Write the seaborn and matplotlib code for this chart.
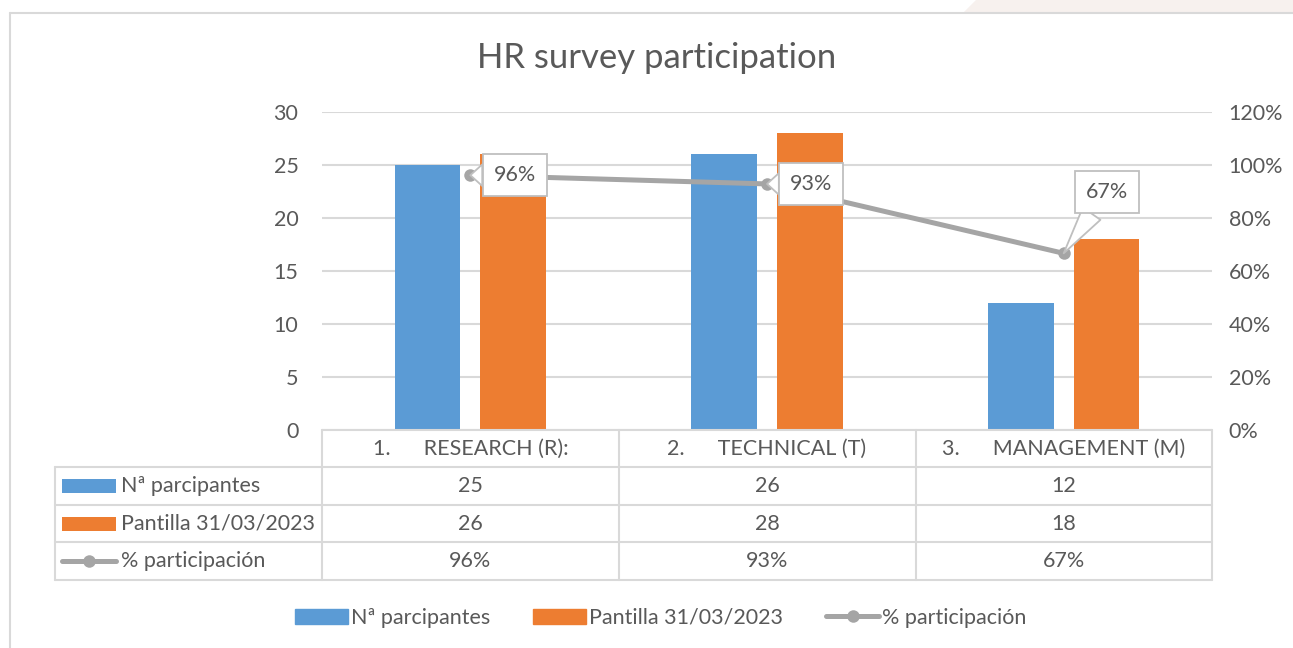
import matplotlib
matplotlib.use("Agg")
import matplotlib.pyplot as plt
import matplotlib.patches as mpatches
from matplotlib.lines import Line2D
from matplotlib.transforms import Affine2D, blended_transform_factory
from matplotlib.ticker import PercentFormatter
import pandas as pd
import seaborn as sns

# data
categories = ["RESEARCH (R):", "TECHNICAL (T)", "MANAGEMENT (M)"]
series_names = ["Nª parcipantes", "Pantilla 31/03/2023", "% participación"]
participants = [25, 26, 12]
headcount = [26, 28, 18]
participation = [0.9615, 0.9286, 0.6667]

blue = "#5B9BD5"
orange = "#ED7D31"
gray = "#A5A5A5"
text_color = "#595959"
grid_color = "#D9D9D9"
fs = 15.5

W, H = 1293, 648

sns.set_style("white")
plt.rcParams["font.family"] = ["Lato", "DejaVu Sans"]
plt.rcParams["text.color"] = text_color

fig = plt.figure(figsize=(W / 100, H / 100), dpi=100)
# pixel transform (y from the top) for layout items
pix = Affine2D().scale(1 / W, -1 / H).translate(0, 1) + fig.transFigure

ax = fig.add_axes([322 / W, 1 - 430 / H, 890 / W, 318 / H])

df = pd.DataFrame({
    "category": categories * 2,
    "series": [series_names[0]] * 3 + [series_names[1]] * 3,
    "value": participants + headcount,
})
sns.barplot(data=df, x="category", y="value", hue="series", palette=[blue, orange],
            width=0.578, gap=0.232, saturation=1, linewidth=0, legend=False, ax=ax)

ax.set_ylim(0, 30)
ax.set_yticks(range(0, 31, 5))
ax.set_xlim(-0.5, 2.5)
ax.set_xticks([])
ax.set_xlabel("")
ax.set_ylabel("")
ax.yaxis.grid(True, color=grid_color, lw=1.5)
ax.set_axisbelow(True)
ax.tick_params(axis="y", length=0, pad=17, labelsize=fs, labelcolor=text_color)
sns.despine(ax=ax, left=True, bottom=True)

# secondary axis with the participation line
ax2 = ax.twinx()
sns.lineplot(x=[0, 1, 2], y=participation, ax=ax2, color=gray, lw=3.6,
             marker="o", markersize=9, markeredgewidth=0)
ax2.set_ylim(0, 1.2)
ax2.set_yticks([0, 0.2, 0.4, 0.6, 0.8, 1.0, 1.2])
ax2.yaxis.set_major_formatter(PercentFormatter(1.0, decimals=0))
ax2.tick_params(axis="y", length=0, pad=12, labelsize=fs, labelcolor=text_color)
ax2.set_ylabel("")
ax2.set_xlim(-0.5, 2.5)
for s in ax2.spines.values():
    s.set_visible(False)

# data labels
offsets = [(32, 0), (32, 0), (31, 44)]
for i, p in enumerate(participation):
    ax2.annotate(f"{p:.0%}", xy=(i, p), xytext=offsets[i], textcoords="offset points",
                 ha="center", va="center", fontsize=fs, color=text_color,
                 bbox=dict(boxstyle="square,pad=0.5", fc="white", ec="#BFBFBF", lw=1.3),
                 arrowprops=dict(arrowstyle="wedge,tail_width=1.0", fc="white", ec="#BFBFBF",
                                 lw=1.3, shrinkA=0, shrinkB=0))

# title
fig.text(657 / W, 1 - 58 / H, "HR survey participation", ha="center", va="center",
         fontsize=25, color=text_color)

# data table
line_kw = dict(color=grid_color, lw=1.5, transform=pix, clip_on=False)
cols = [322, 619, 916, 1212]
rows = [430, 467, 505, 542, 580]
for x in cols:
    fig.add_artist(Line2D([x, x], [rows[0], rows[-1]], **line_kw))
fig.add_artist(Line2D([55, 55], [rows[1], rows[-1]], **line_kw))
fig.add_artist(Line2D([cols[0], cols[-1]], [rows[0], rows[0]], **line_kw))
for y in rows[1:]:
    fig.add_artist(Line2D([55, cols[-1]], [y, y], **line_kw))

cell = blended_transform_factory(ax.transData, pix)
header_y = (rows[0] + rows[1]) / 2
for i, name in enumerate(categories):
    fig.text(i, header_y, f"{i + 1}.      {name}", transform=cell, ha="center",
             va="center", fontsize=fs, color=text_color)

table_rows = [
    [str(v) for v in participants],
    [str(v) for v in headcount],
    [f"{v:.0%}" for v in participation],
]
for r, vals in enumerate(table_rows):
    yc = (rows[r + 1] + rows[r + 2]) / 2
    for i, v in enumerate(vals):
        fig.text(i, yc, v, transform=cell, ha="center", va="center",
                 fontsize=fs, color=text_color)
    fig.text(121, yc, series_names[r], transform=pix, ha="left", va="center",
             fontsize=fs, color=text_color)

# legend keys inside the table
for r, c in enumerate([blue, orange]):
    yc = (rows[r + 1] + rows[r + 2]) / 2
    fig.add_artist(mpatches.Rectangle((62, yc + 7), 54, -14, transform=pix,
                                      fc=c, ec="none"))
yc = (rows[3] + rows[4]) / 2
fig.add_artist(Line2D([62, 116], [yc, yc], color=gray, lw=3.6, transform=pix))
fig.add_artist(Line2D([89], [yc], color=gray, marker="o", markersize=9,
                      markeredgewidth=0, transform=pix))

# bottom legend
handles = [
    mpatches.Patch(color=blue, label=series_names[0]),
    mpatches.Patch(color=orange, label=series_names[1]),
    Line2D([], [], color=gray, lw=3.6, marker="o", markersize=9,
           markeredgewidth=0, label=series_names[2]),
]
fig.legend(handles=handles, loc="center", bbox_to_anchor=(661 / W, 1 - 618 / H),
           ncol=3, frameon=False, fontsize=fs, labelcolor=text_color,
           handlelength=2.45, handleheight=0.7, handletextpad=0.15, columnspacing=2.0)

# chart frame and background band
fig.add_artist(mpatches.Polygon([(976, 0), (W, 0), (W, 12), (964, 12)], closed=True,
                                transform=pix, fc="#F7F1EE", ec="none"))
fig.add_artist(Line2D([10, W], [13, 13], color=grid_color, lw=1.5, transform=pix))
fig.add_artist(Line2D([10, 10], [13, H], color=grid_color, lw=1.5, transform=pix))

fig.savefig("out.png", dpi=100)
